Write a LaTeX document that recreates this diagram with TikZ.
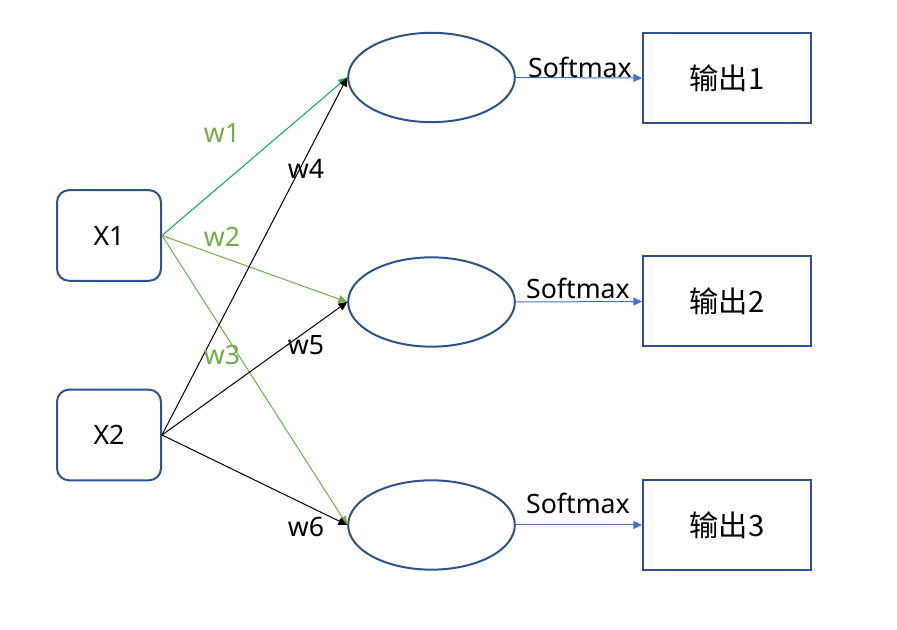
\documentclass[tikz,border=0pt]{standalone}
\usepackage{fontspec}
\setmainfont{Noto Sans}
\newfontfamily\cjk[Scale=1.1]{Noto Sans CJK SC}
\usetikzlibrary{arrows.meta,shapes.geometric}
\definecolor{edge}{RGB}{47,82,143}
\definecolor{leaf}{RGB}{112,173,71}
\definecolor{bright}{RGB}{0,176,80}
\definecolor{soft}{RGB}{68,114,196}

\begin{document}
\begin{tikzpicture}[x=0.75pt,y=-0.75pt,font=\fontsize{20}{23}\selectfont,
  inp/.style={draw=edge,line width=1.5pt,rounded corners=9pt,minimum width=78pt,minimum height=68pt,inner sep=0pt},
  hid/.style={ellipse,draw=edge,line width=1.5pt,minimum width=125pt,minimum height=67pt,inner sep=0pt},
  outbox/.style={draw=edge,line width=1.5pt,minimum width=126pt,minimum height=67.5pt,inner sep=0pt},
  a/.style={-{Triangle[length=6.5pt,width=6pt]},line width=0.75pt},
  lbl/.style={inner sep=1pt}]
 \useasboundingbox (0,0) rectangle (897,630);
 % inputs
 \node[inp] (x1) at (109,235.5) {X1};
 \node[inp] (x2) at (109,435) {X2};
 % hidden layer
 \node[hid] (h1) at (431.5,77.5) {};
 \node[hid] (h2) at (431.5,302) {};
 \node[hid] (h3) at (431.5,525) {};
 % outputs
 \node[outbox] (o1) at (727,78) {\cjk 输出1};
 \node[outbox] (o2) at (727,301.5) {\cjk 输出2};
 \node[outbox] (o3) at (727,525) {\cjk 输出3};
 % weights
 \draw[a,bright] (x1.east) -- (h1.west);
 \draw[a,leaf] (x1.east) -- (h2.west);
 \draw[a,leaf] (x1.east) -- (h3.west);
 \draw[a,black] (x2.east) -- (h1.west);
 \draw[a,black] (x2.east) -- (h2.west);
 \draw[a,black] (x2.east) -- (h3.west);
 \node[lbl,leaf] (w1) at (222,133) {w1};
 \node[lbl,leaf] (w2) at (222,237) {w2};
 \node[lbl,leaf] (w3) at (222,355) {w3};
 \node[lbl] (w4) at (306,169) {w4};
 \node[lbl] (w5) at (306,345) {w5};
 \node[lbl] (w6) at (306,527) {w6};
 % softmax
 \draw[a,soft] (h1.east) -- (o1.west);
 \draw[a,soft] (h2.east) -- (o2.west);
 \draw[a,soft] (h3.east) -- (o3.west);
 \node[lbl] (s1) at (580,67) {Softmax};
 \node[lbl] (s2) at (578,288) {Softmax};
 \node[lbl] (s3) at (578,503) {Softmax};
\end{tikzpicture}
\end{document}
